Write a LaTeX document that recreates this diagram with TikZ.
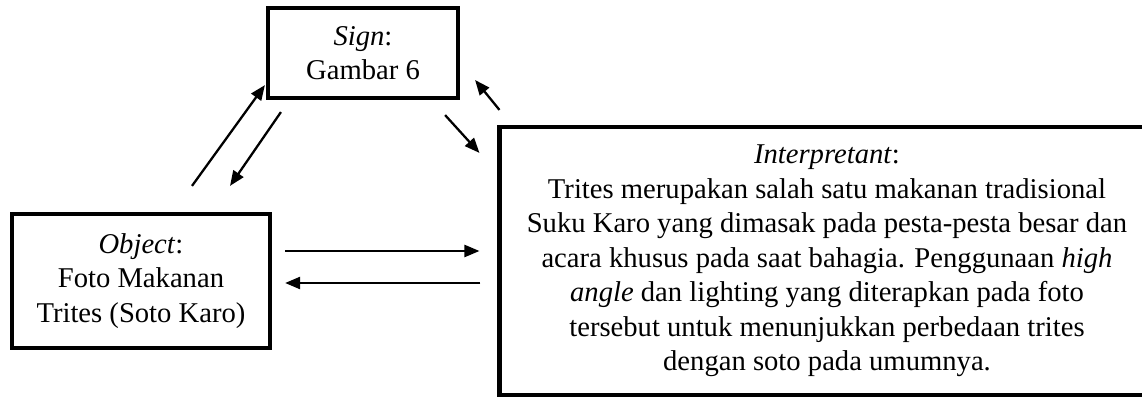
\documentclass[tikz,border=0pt]{standalone}
\usepackage{fontspec}
\setmainfont{Liberation Serif}
\usetikzlibrary{arrows.meta}
\tikzset{
  semiobox/.style={draw=black,line width=2.4pt,inner sep=0pt,align=center,
    font=\fontsize{16.3}{19.6}\selectfont},
  semioarrow/.style={line width=1.3pt,-{Triangle[length=0.3cm,width=0.24cm]}}
}

\begin{document}
\begin{tikzpicture}[x=0.02cm,y=-0.02cm]
\path[use as bounding box] (0,0) rectangle (1142,398);
% the three boxes
\node[semiobox,minimum width=3.8cm,minimum height=1.8cm] (sign) at (363,53)
  {\textit{Sign}:\\Gambar 6};
\node[semiobox,minimum width=5.16cm,minimum height=2.68cm] (obj) at (141,281)
  {\textit{Object}:\\Foto Makanan\\Trites (Soto Karo)};
\node[semiobox,minimum width=13.1cm,minimum height=5.36cm] (interp) at (827,261)
  {\textit{Interpretant}:\\
   Trites merupakan salah satu makanan tradisional\\
   Suku Karo yang dimasak pada pesta-pesta besar dan\\
   acara khusus pada saat bahagia. Penggunaan \textit{high}\\
   \textit{angle} dan lighting yang diterapkan pada foto\\
   tersebut untuk menunjukkan perbedaan trites\\
   dengan soto pada umumnya.};
% arrows between the boxes
\draw[semioarrow] ([shift={(51,-26)}]obj.north) -- ([shift={(-1,-15)}]sign.south west);
\draw[semioarrow] ([shift={(15,12)}]sign.south west) -- ([shift={(89,-26)}]obj.north);
\draw[semioarrow] ([shift={(-15,15)}]sign.south east) -- ([shift={(-18,28)}]interp.north west);
\draw[semioarrow] ([shift={(2,-15)}]interp.north west) -- ([shift={(15,27)}]sign.east);
\draw[semioarrow] ([shift={(13,-30)}]obj.east) -- ([shift={(-18,-10)}]interp.west);
\draw[semioarrow] ([shift={(-17,22)}]interp.west) -- ([shift={(13,2)}]obj.east);
\end{tikzpicture}
\end{document}
